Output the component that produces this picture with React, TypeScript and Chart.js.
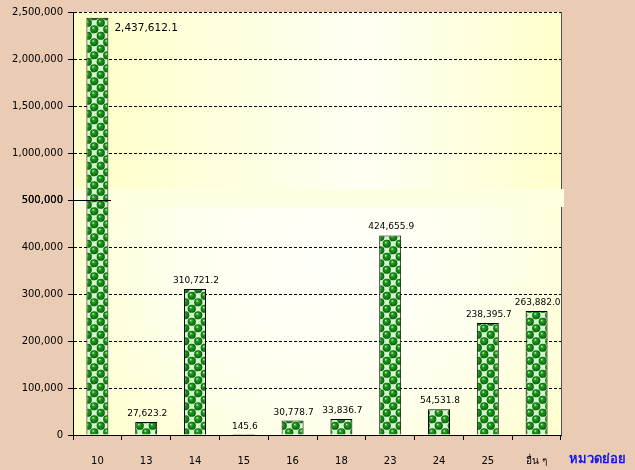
import { useEffect, useRef } from "react";
import { Chart, registerables } from "chart.js";

Chart.register(...registerables);

const categories = ["10", "13", "14", "15", "16", "18", "23", "24", "25", "อื่น ๆ"];
const values = [2437612.1, 27623.2, 310721.2, 145.6, 30778.7, 33836.7, 424655.9, 54531.8, 238395.7, 263882.0];
const breakValue = 500000;
const upperMax = 2500000;
const upperStep = 500000;
const lowerStep = 100000;
const xAxisTitle = "หมวดย่อย";

const FONT = '"DejaVu Sans", "Noto Sans", sans-serif';
const fmtVal = (v: number) => v.toLocaleString("en-US", { minimumFractionDigits: 1, maximumFractionDigits: 1 });
const fmtTick = (v: number) => Number(v).toLocaleString("en-US");

function makePattern(): CanvasPattern | string {
  const c = document.createElement("canvas");
  c.width = 13;
  c.height = 13;
  const g = c.getContext("2d");
  if (!g) return "#1a8a1a";
  g.fillStyle = "#d2f7cc";
  g.fillRect(0, 0, 13, 13);
  const ball = (cx: number, cy: number) => {
    const grd = g.createRadialGradient(cx - 1.2, cy - 1.5, 0.2, cx, cy, 4.3);
    grd.addColorStop(0, "#c4f4bd");
    grd.addColorStop(0.28, "#229c22");
    grd.addColorStop(1, "#066006");
    g.fillStyle = grd;
    g.beginPath();
    g.arc(cx, cy, 4.1, 0, Math.PI * 2);
    g.fill();
  };
  ball(3.25, 3.25);
  ball(9.75, 9.75);
  ball(9.75 - 13, 9.75);
  ball(9.75, 9.75 - 13);
  ball(3.25 + 13, 3.25);
  ball(3.25, 3.25 + 13);
  return g.createPattern(c, "repeat") || "#1a8a1a";
}

export default function App() {
  const ref = useRef<HTMLCanvasElement | null>(null);

  useEffect(() => {
    if (!ref.current) return;
    const pattern = makePattern();
    const lowerData = values.map((v) => Math.min(v, breakValue));
    const upperData = values.map((v) => (v > breakValue ? v : null));

    const decor = {
      id: "decor",
      beforeDraw(chart: any) {
        const { ctx, chartArea: a } = chart;
        const yb = chart.scales.yLower.getPixelForValue(breakValue);
        ctx.save();
        ctx.fillStyle = "#EACBB3";
        ctx.fillRect(0, 0, chart.width, chart.height);
        const gu = ctx.createLinearGradient(a.left, 0, a.right, 0);
        gu.addColorStop(0, "#FFFFC8");
        gu.addColorStop(0.6, "#FFFFF4");
        gu.addColorStop(1, "#FFFFCC");
        ctx.fillStyle = gu;
        ctx.fillRect(a.left, a.top, a.right - a.left, yb - a.top);
        const gl = ctx.createRadialGradient(330, 260, 10, 330, 260, 330);
        gl.addColorStop(0, "#FFFFFA");
        gl.addColorStop(0.45, "#FFFFEE");
        gl.addColorStop(1, "#FFFFC4");
        ctx.fillStyle = gl;
        ctx.fillRect(a.left, yb, a.right - a.left, a.bottom - yb);
        ctx.restore();
      },
      beforeDatasetsDraw(chart: any) {
        const { ctx, chartArea: a } = chart;
        const yb = chart.scales.yLower.getPixelForValue(breakValue);
        ctx.save();
        ctx.fillStyle = "#FFFFE2";
        ctx.fillRect(a.left + 1, yb - 11, a.right - a.left + 2, 18);
        ctx.restore();
      },
      afterDatasetsDraw(chart: any) {
        const { ctx, chartArea: a } = chart;
        const yb = chart.scales.yLower.getPixelForValue(breakValue);
        const meta = chart.getDatasetMeta(0);
        ctx.save();
        ctx.strokeStyle = "#505050";
        ctx.lineWidth = 1;
        ctx.beginPath();
        ctx.moveTo(a.right + 0.5, a.top);
        ctx.lineTo(a.right + 0.5, yb - 11);
        ctx.moveTo(a.right + 0.5, yb + 7);
        ctx.lineTo(a.right + 0.5, a.bottom);
        ctx.stroke();
        ctx.strokeStyle = "#000";
        ctx.beginPath();
        ctx.moveTo(a.left - 5, Math.round(yb) + 0.5);
        ctx.lineTo(a.left + 38, Math.round(yb) + 0.5);
        ctx.stroke();
        ctx.fillStyle = "#000";
        values.forEach((v, i) => {
          const el = meta.data[i];
          const txt = fmtVal(v);
          if (v > breakValue) {
            const y = chart.scales.yUpper.getPixelForValue(v);
            ctx.font = `10.5px ${FONT}`;
            ctx.textAlign = "left";
            ctx.textBaseline = "middle";
            ctx.fillText(txt, el.x + el.width / 2 + 6, y + 10);
          } else {
            const y = chart.scales.yLower.getPixelForValue(v);
            ctx.font = `9px ${FONT}`;
            ctx.textAlign = "center";
            ctx.textBaseline = "alphabetic";
            ctx.fillText(txt, el.x + 1, y - 6);
          }
        });
        ctx.font = `bold 13px ${FONT}`;
        ctx.fillStyle = "#1414F0";
        ctx.textAlign = "center";
        ctx.textBaseline = "middle";
        ctx.fillText(xAxisTitle, 597, 460);
        ctx.restore();
      },
    };

    const gridColor = (hidden: number[]) => (c: any) =>
      c.tick && hidden.includes(c.tick.value) ? "rgba(0,0,0,0)" : "#000";

    const chart = new Chart(ref.current, {
      type: "bar",
      data: {
        labels: categories,
        datasets: [
          {
            data: lowerData,
            yAxisID: "yLower",
            backgroundColor: pattern as any,
            borderColor: "#000",
            borderWidth: 1,
            barPercentage: 0.45,
            categoryPercentage: 1,
            grouped: false,
          },
          {
            data: upperData as any,
            yAxisID: "yUpper",
            backgroundColor: pattern as any,
            borderColor: "#000",
            borderWidth: 1,
            barPercentage: 0.45,
            categoryPercentage: 1,
            grouped: false,
          },
        ],
      },
      options: {
        responsive: false,
        animation: false,
        devicePixelRatio: 1,
        layout: { padding: { top: 12, right: 74, left: 0, bottom: 0 } },
        plugins: { legend: { display: false }, tooltip: { enabled: false } },
        scales: {
          x: {
            type: "category",
            grid: { offset: true, drawOnChartArea: false, tickLength: 5, color: "#000" },
            border: { display: true, color: "#000" },
            ticks: { font: { family: FONT, size: 10 }, color: "#000", padding: 15, maxRotation: 0, autoSkip: false },
            afterFit: (s: any) => {
              s.height = 35;
            },
          },
          yLower: {
            type: "linear",
            position: "left",
            stack: "y",
            stackWeight: 235,
            min: 0,
            max: breakValue,
            ticks: {
              stepSize: lowerStep,
              font: { family: FONT, size: 10 },
              color: "#000",
              padding: 5,
              callback: (v: any) => fmtTick(v),
            },
            grid: { color: gridColor([0, breakValue]), tickColor: "#000", tickLength: 5 },
            border: { display: true, color: "#000", dash: [3, 2] },
            afterFit: (s: any) => {
              s.width = 73;
            },
          },
          yUpper: {
            type: "linear",
            position: "left",
            stack: "y",
            stackWeight: 188,
            min: breakValue,
            max: upperMax,
            ticks: {
              stepSize: upperStep,
              font: { family: FONT, size: 10 },
              color: "#000",
              padding: 5,
              callback: (v: any) => fmtTick(v),
            },
            grid: { color: gridColor([breakValue]), tickColor: "#000", tickLength: 5 },
            border: { display: true, color: "#000", dash: [3, 2] },
            afterFit: (s: any) => {
              s.width = 73;
            },
          },
        },
      },
      plugins: [decor],
    });
    return () => chart.destroy();
  }, []);

  return (
    <div style={{ position: "absolute", left: 0, top: 0, width: 635, height: 470, background: "#EACBB3" }}>
      <canvas ref={ref} width={635} height={470} style={{ display: "block" }} />
    </div>
  );
}
